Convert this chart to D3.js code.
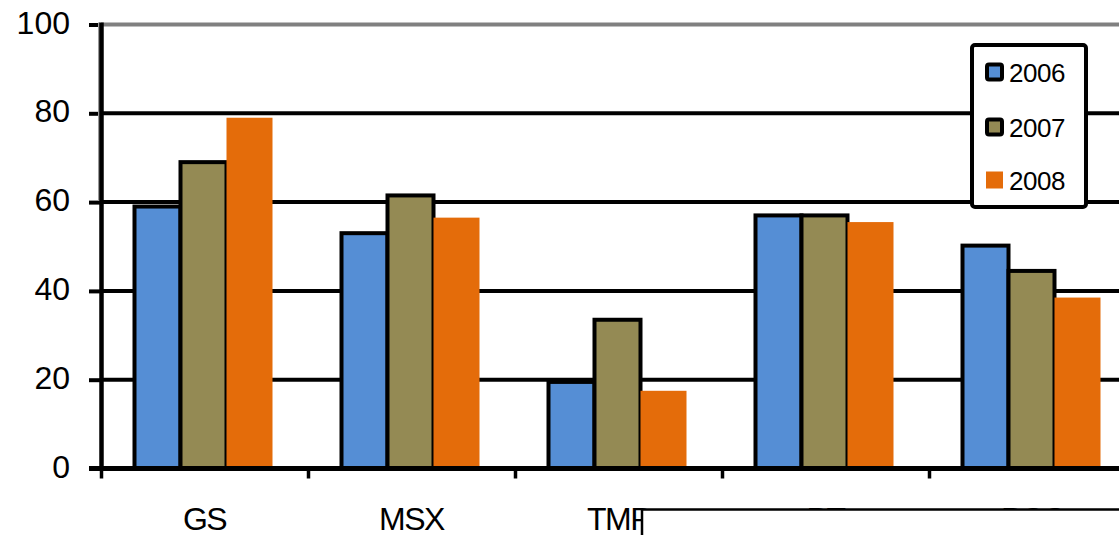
<!DOCTYPE html>
<html>
<head>
<meta charset="utf-8">
<script src="https://cdn.jsdelivr.net/npm/d3@7"></script>
<style>
  html, body { margin: 0; padding: 0; background: #fff; overflow: hidden; }
  svg { display: block; font-family: "Liberation Sans", Arial, sans-serif; }
</style>
</head>
<body>
<svg id="chart" width="1119" height="535"></svg>
<script>
const categories = ["GS", "MSX", "TMP", "PT", "PCC"];
const seriesNames = ["2006", "2007", "2008"];
const values2006 = [59, 53, 19.5, 57, 50.2];
const values2007 = [69, 61.5, 33.5, 57, 44.5];
const values2008 = [79, 56.5, 17.5, 55.5, 38.5];
const yTicks = [0, 20, 40, 60, 80, 100];
const colors = ["#558ED5", "#948A54", "#E46C0A"];

const seriesValues = [values2006, values2007, values2008];
const svg = d3.select("#chart");

const x = d3.scaleBand().domain(categories).range([100, 1135]).paddingInner(0).paddingOuter(0);
const xs = d3.scaleBand().domain(seriesNames).range([0, x.bandwidth()]).paddingInner(0).paddingOuter(0.75);
const y = d3.scaleLinear().domain([0, 100]).range([468.5, 24.5]);

// gridlines
svg.append("g").selectAll("line").data(yTicks.filter(d => d > 0)).join("line")
  .attr("x1", 101).attr("x2", 1119)
  .attr("y1", d => y(d)).attr("y2", d => y(d))
  .attr("stroke", d => d === 100 ? "#808080" : "#000")
  .attr("stroke-width", 4);

// bars
const rows = [];
categories.forEach((c, i) => seriesNames.forEach((s, j) => rows.push({c, s, j, v: seriesValues[j][i]})));
svg.append("g").selectAll("rect").data(rows).join("rect")
  .attr("x", d => x(d.c) + xs(d.s))
  .attr("y", d => y(d.v))
  .attr("width", xs.bandwidth())
  .attr("height", d => y(0) - y(d.v))
  .attr("fill", d => colors[d.j])
  .attr("stroke", d => d.j < 2 ? "#000" : "none")
  .attr("stroke-width", 4);

// y axis
const yAxis = d3.axisLeft(y).tickValues(yTicks).tickSize(12).tickPadding(19);
const gy = svg.append("g").attr("transform", "translate(101,0)").call(yAxis);
gy.select(".domain").remove();
gy.selectAll(".tick line").attr("stroke", "#000").attr("stroke-width", 4);
gy.selectAll(".tick text").attr("font-size", 32).attr("fill", "#000")
  .attr("font-family", "'Liberation Sans', Arial, sans-serif")
  .attr("dy", null).attr("y", 0).attr("dominant-baseline", "auto")
  .attr("transform", "translate(0,8.5)");
svg.append("line").attr("x1", 99).attr("x2", 99).attr("y1", y(100) - 2).attr("y2", 200)
  .attr("stroke", "#999").attr("stroke-width", 2);
svg.append("line").attr("x1", 101.5).attr("x2", 101.5).attr("y1", y(100) - 2).attr("y2", y(0) + 2)
  .attr("stroke", "#000").attr("stroke-width", 4.5);

// x axis
svg.append("line").attr("x1", 89).attr("x2", 1119).attr("y1", y(0)).attr("y2", y(0))
  .attr("stroke", "#000").attr("stroke-width", 5);
svg.append("g").selectAll("line").data(categories).join("line")
  .attr("x1", d => x(d) + 1.5).attr("x2", d => x(d) + 1.5)
  .attr("y1", y(0)).attr("y2", y(0) + 10)
  .attr("stroke", "#000").attr("stroke-width", 3.5);
svg.append("g").selectAll("text").data(categories).join("text")
  .attr("x", d => x(d) + x.bandwidth() / 2 + 1)
  .attr("y", 530)
  .attr("text-anchor", "middle")
  .attr("font-size", 32)
  .attr("letter-spacing", -1.5)
  .attr("fill", "#000")
  .text(d => d);

// overlapping box at bottom
svg.append("rect").attr("x", 642).attr("y", 509.5).attr("width", 520).attr("height", 60)
  .attr("fill", "#fff").attr("stroke", "#000").attr("stroke-width", 2.5);

// legend
const lg = svg.append("g");
lg.append("rect").attr("x", 972).attr("y", 45).attr("width", 114).attr("height", 162).attr("rx", 3)
  .attr("fill", "#fff").attr("stroke", "#000").attr("stroke-width", 4);
const legendY = [72, 127, 180];
seriesNames.forEach((s, j) => {
  const sz = j < 2 ? 15 : 17;
  lg.append("rect")
    .attr("x", 994.5 - sz / 2).attr("y", legendY[j] - sz / 2)
    .attr("width", sz).attr("height", sz).attr("rx", j < 2 ? 2 : 0)
    .attr("fill", colors[j])
    .attr("stroke", j < 2 ? "#000" : "none")
    .attr("stroke-width", 4);
  lg.append("text").attr("x", 1009).attr("y", legendY[j] + 9.5)
    .attr("font-size", 26).attr("fill", "#000").attr("letter-spacing", -0.5).text(s);
});
</script>
</body>
</html>
